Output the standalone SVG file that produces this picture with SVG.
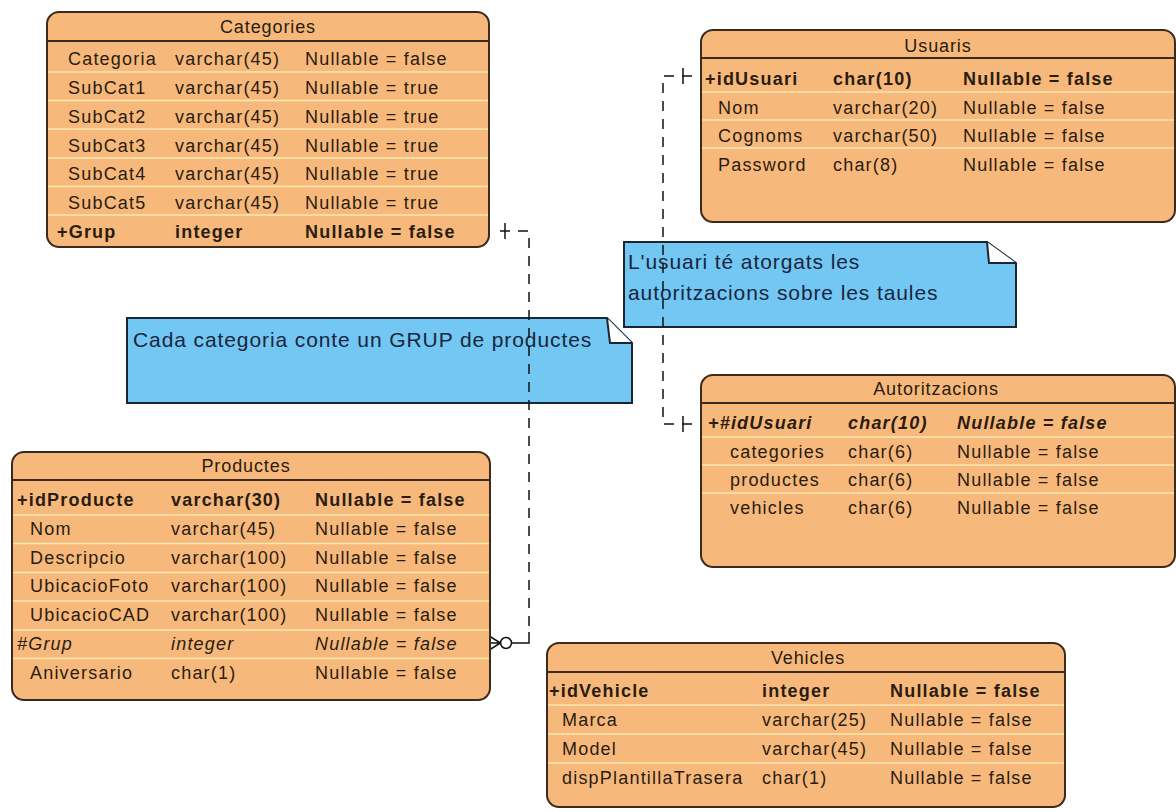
<svg xmlns="http://www.w3.org/2000/svg" width="1176" height="812" viewBox="0 0 1176 812">
<style>
.ent{fill:#f7b97b;stroke:#3b2a1e;stroke-width:2}
.hdr{stroke:#3b2a1e;stroke-width:2}
.sep{stroke:#fbe7b0;stroke-width:1.5}
.t{font-family:"Liberation Sans",Arial,sans-serif;font-size:18px;letter-spacing:1.2px;fill:#2a1c10}
.ttl{text-anchor:middle;letter-spacing:0.9px}
.b{font-weight:bold}
.i{font-style:italic}
.note{fill:#72c8f2;stroke:#1c2633;stroke-width:2}
.fold{fill:#ffffff;stroke:#1c2633;stroke-width:2}
.nt{font-family:"Liberation Sans",Arial,sans-serif;font-size:21px;letter-spacing:0.9px;fill:#1a2540}
.dash{fill:none;stroke:#111;stroke-width:1.5;stroke-dasharray:10 8}
.solid{fill:none;stroke:#111;stroke-width:1.5}
</style>

<g id="note-usuari">
<path class="note" d="M624,242 H987 L1016,263 V327 H624 Z"/>
<path class="fold" d="M987,242 L989,263 L1016,263"/>
<text class="nt" x="628" y="269">L'usuari té atorgats les</text>
<text class="nt" x="628" y="300">autoritzacions sobre les taules</text>
</g>

<g id="note-categoria">
<path class="note" d="M127,318 H607 L632,343 V403 H127 Z"/>
<path class="fold" d="M607,318 L610,343 L632,343"/>
<text class="nt" x="133" y="347">Cada categoria conte un GRUP de productes</text>
</g>

<g id="connectors">
<path class="dash" d="M500,231 H529 V632"/>
<line class="solid" x1="505" y1="223" x2="505" y2="239"/>
<path class="solid" d="M511.5,643 H529 V632"/>
<circle cx="506" cy="643" r="5.5" fill="#fff" stroke="#111" stroke-width="1.5"/>
<path class="solid" d="M490,636.5 L500.5,643 L490,649.5 M490,643 H500.5"/>
<path class="dash" d="M692,76 H663 V424 H692"/>
<line class="solid" x1="683" y1="68" x2="683" y2="84"/>
<line class="solid" x1="683" y1="416" x2="683" y2="432"/>
</g>

<g id="categories">
<rect class="ent" x="47" y="12" width="442" height="235" rx="12"/>
<line class="hdr" x1="47" y1="41" x2="489" y2="41"/>
<g class="sep">
<line x1="48" y1="72" x2="488" y2="72"/>
<line x1="48" y1="100.5" x2="488" y2="100.5"/>
<line x1="48" y1="129" x2="488" y2="129"/>
<line x1="48" y1="158" x2="488" y2="158"/>
<line x1="48" y1="186.5" x2="488" y2="186.5"/>
<line x1="48" y1="215" x2="488" y2="215"/>
</g>
<text class="t ttl" x="268" y="33">Categories</text>
<text class="t" x="68" y="65">Categoria</text><text class="t" x="175" y="65">varchar(45)</text><text class="t" x="305" y="65">Nullable = false</text>
<text class="t" x="68" y="94">SubCat1</text><text class="t" x="175" y="94">varchar(45)</text><text class="t" x="305" y="94">Nullable = true</text>
<text class="t" x="68" y="123">SubCat2</text><text class="t" x="175" y="123">varchar(45)</text><text class="t" x="305" y="123">Nullable = true</text>
<text class="t" x="68" y="151.5">SubCat3</text><text class="t" x="175" y="151.5">varchar(45)</text><text class="t" x="305" y="151.5">Nullable = true</text>
<text class="t" x="68" y="180">SubCat4</text><text class="t" x="175" y="180">varchar(45)</text><text class="t" x="305" y="180">Nullable = true</text>
<text class="t" x="68" y="209">SubCat5</text><text class="t" x="175" y="209">varchar(45)</text><text class="t" x="305" y="209">Nullable = true</text>
<text class="t b" x="57" y="238">+Grup</text><text class="t b" x="175" y="238">integer</text><text class="t b" x="305" y="238">Nullable = false</text>
</g>

<g id="usuaris">
<rect class="ent" x="701" y="30" width="474" height="192" rx="12"/>
<line class="hdr" x1="701" y1="58" x2="1175" y2="58"/>
<g class="sep">
<line x1="702" y1="92" x2="1174" y2="92"/>
<line x1="702" y1="120" x2="1174" y2="120"/>
<line x1="702" y1="148" x2="1174" y2="148"/>
</g>
<text class="t ttl" x="938" y="52">Usuaris</text>
<text class="t b" x="705" y="85">+idUsuari</text><text class="t b" x="833" y="85">char(10)</text><text class="t b" x="963" y="85">Nullable = false</text>
<text class="t" x="718" y="114">Nom</text><text class="t" x="833" y="114">varchar(20)</text><text class="t" x="963" y="114">Nullable = false</text>
<text class="t" x="718" y="142">Cognoms</text><text class="t" x="833" y="142">varchar(50)</text><text class="t" x="963" y="142">Nullable = false</text>
<text class="t" x="718" y="171">Password</text><text class="t" x="833" y="171">char(8)</text><text class="t" x="963" y="171">Nullable = false</text>
</g>

<g id="autoritzacions">
<rect class="ent" x="701" y="375" width="474" height="192" rx="12"/>
<line class="hdr" x1="701" y1="403" x2="1175" y2="403"/>
<g class="sep">
<line x1="702" y1="437" x2="1174" y2="437"/>
<line x1="702" y1="465" x2="1174" y2="465"/>
<line x1="702" y1="493" x2="1174" y2="493"/>
</g>
<text class="t ttl" x="936" y="395">Autoritzacions</text>
<text class="t b i" x="708" y="429">+#idUsuari</text><text class="t b i" x="848" y="429">char(10)</text><text class="t b i" x="957" y="429">Nullable = false</text>
<text class="t" x="730" y="458">categories</text><text class="t" x="848" y="458">char(6)</text><text class="t" x="957" y="458">Nullable = false</text>
<text class="t" x="730" y="486">productes</text><text class="t" x="848" y="486">char(6)</text><text class="t" x="957" y="486">Nullable = false</text>
<text class="t" x="730" y="514">vehicles</text><text class="t" x="848" y="514">char(6)</text><text class="t" x="957" y="514">Nullable = false</text>
</g>

<g id="productes">
<rect class="ent" x="12" y="452" width="478" height="248" rx="12"/>
<line class="hdr" x1="12" y1="480" x2="490" y2="480"/>
<g class="sep">
<line x1="13" y1="515" x2="489" y2="515"/>
<line x1="13" y1="543.5" x2="489" y2="543.5"/>
<line x1="13" y1="572.5" x2="489" y2="572.5"/>
<line x1="13" y1="601" x2="489" y2="601"/>
<line x1="13" y1="630" x2="489" y2="630"/>
<line x1="13" y1="658.5" x2="489" y2="658.5"/>
</g>
<text class="t ttl" x="246" y="472">Productes</text>
<text class="t b" x="17" y="506">+idProducte</text><text class="t b" x="171" y="506">varchar(30)</text><text class="t b" x="315" y="506">Nullable = false</text>
<text class="t" x="30" y="535">Nom</text><text class="t" x="171" y="535">varchar(45)</text><text class="t" x="315" y="535">Nullable = false</text>
<text class="t" x="30" y="563.5">Descripcio</text><text class="t" x="171" y="563.5">varchar(100)</text><text class="t" x="315" y="563.5">Nullable = false</text>
<text class="t" x="30" y="592">UbicacioFoto</text><text class="t" x="171" y="592">varchar(100)</text><text class="t" x="315" y="592">Nullable = false</text>
<text class="t" x="30" y="621">UbicacioCAD</text><text class="t" x="171" y="621">varchar(100)</text><text class="t" x="315" y="621">Nullable = false</text>
<text class="t i" x="17" y="650">#Grup</text><text class="t i" x="171" y="650">integer</text><text class="t i" x="315" y="650">Nullable = false</text>
<text class="t" x="30" y="679">Aniversario</text><text class="t" x="171" y="679">char(1)</text><text class="t" x="315" y="679">Nullable = false</text>
</g>

<g id="vehicles">
<rect class="ent" x="547" y="643" width="518" height="164" rx="12"/>
<line class="hdr" x1="547" y1="672" x2="1065" y2="672"/>
<g class="sep">
<line x1="548" y1="705" x2="1064" y2="705"/>
<line x1="548" y1="734" x2="1064" y2="734"/>
<line x1="548" y1="763" x2="1064" y2="763"/>
</g>
<text class="t ttl" x="808" y="664">Vehicles</text>
<text class="t b" x="549" y="697">+idVehicle</text><text class="t b" x="762" y="697">integer</text><text class="t b" x="890" y="697">Nullable = false</text>
<text class="t" x="562" y="726">Marca</text><text class="t" x="762" y="726">varchar(25)</text><text class="t" x="890" y="726">Nullable = false</text>
<text class="t" x="562" y="755">Model</text><text class="t" x="762" y="755">varchar(45)</text><text class="t" x="890" y="755">Nullable = false</text>
<text class="t" x="562" y="784">dispPlantillaTrasera</text><text class="t" x="762" y="784">char(1)</text><text class="t" x="890" y="784">Nullable = false</text>
</g>
</svg>
